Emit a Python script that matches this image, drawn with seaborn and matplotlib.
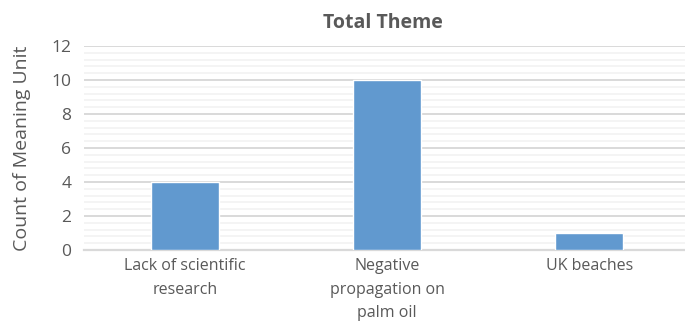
import matplotlib
matplotlib.use("Agg")
import matplotlib.pyplot as plt
import seaborn as sns
import pandas as pd
from matplotlib.ticker import MultipleLocator

themes = ["Lack of scientific\nresearch", "Negative\npropagation on\npalm oil", "UK beaches"]
counts = [4, 10, 1]
y_ticks = [0, 2, 4, 6, 8, 10, 12]

sns.set_theme(style="white")
plt.rcParams["font.family"] = ["Open Sans", "DejaVu Sans"]

df = pd.DataFrame({"Theme": themes, "Count": counts})

fig = plt.figure(figsize=(6.85, 3.21), dpi=100)
ax = fig.add_axes([0.1226, 0.2212, 0.885, 0.6355])

sns.barplot(data=df, x="Theme", y="Count", color="#6199CF", saturation=1,
            width=0.337, ax=ax, zorder=3)

ax.set_ylim(0, 12)
ax.set_xlim(-0.5, 2.5)
ax.set_yticks(y_ticks)
ax.yaxis.set_minor_locator(MultipleLocator(0.4))
ax.grid(which="major", axis="y", color="#D9D9D9", linewidth=1.4, zorder=0)
ax.grid(which="minor", axis="y", color="#F2F2F2", linewidth=1.2, zorder=0)
ax.set_axisbelow(True)

for s in ["top", "right", "left"]:
    ax.spines[s].set_visible(False)
ax.spines["bottom"].set_color("#D9D9D9")
ax.spines["bottom"].set_linewidth(1.6)

ax.tick_params(axis="both", which="both", length=0, colors="#595959")
ax.tick_params(axis="y", labelsize=12.5, pad=9)
ax.tick_params(axis="x", labelsize=11.5, pad=6)
for lab in ax.get_xticklabels():
    lab.set_linespacing(1.6)

ax.set_xlabel("")
ax.set_ylabel("Count of Meaning Unit", fontsize=14, color="#595959", labelpad=15)
ax.set_title("Total Theme", fontsize=14, fontweight="bold", color="#595959",
             pad=13, x=0.493)

fig.savefig("out.png", dpi=100)
